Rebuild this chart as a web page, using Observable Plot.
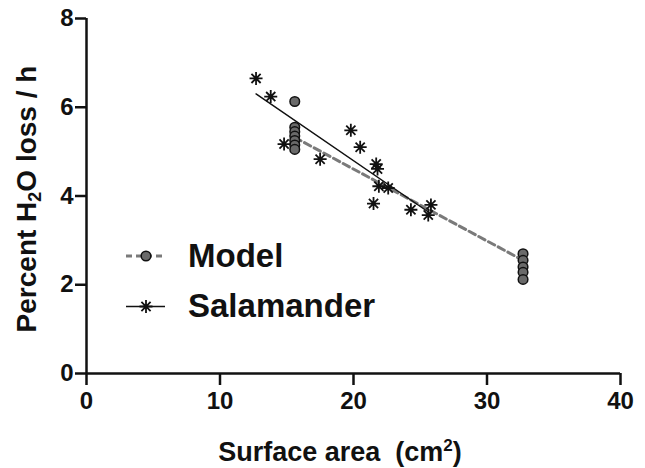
<!DOCTYPE html>
<html><head><meta charset="utf-8">
<script src="https://cdn.jsdelivr.net/npm/d3@7"></script>
<script src="https://cdn.jsdelivr.net/npm/@observablehq/plot@0.6"></script>
<style>
body{margin:0;background:#fff}
svg{font-family:"Liberation Sans",Arial,sans-serif}
</style>
</head><body><div id="chart"></div>
<script>
// Model (circles)
const modelArea = [15.6, 15.6, 15.6, 15.6, 15.6, 15.6, 15.6, 32.7, 32.7, 32.7, 32.7, 32.7];
const modelLoss = [6.13, 5.55, 5.45, 5.35, 5.25, 5.15, 5.05, 2.70, 2.55, 2.40, 2.28, 2.12];
// Salamander (asterisks)
const salArea = [12.7, 13.8, 14.8, 17.5, 19.8, 20.5, 21.7, 21.8, 21.9, 22.6, 21.5, 24.3, 25.8, 25.6];
const salLoss = [6.65, 6.24, 5.17, 4.83, 5.48, 5.10, 4.72, 4.61, 4.22, 4.18, 3.83, 3.69, 3.80, 3.57];
// Fit lines (end points)
const modelFitArea = [15.6, 32.7];
const modelFitLoss = [5.32, 2.55];
const salFitArea = [12.7, 25.8];
const salFitLoss = [6.30, 3.60];
// Ticks and labels
const xTicks = [0, 10, 20, 30, 40];
const yTicks = [0, 2, 4, 6, 8];
const seriesNames = ["Model", "Salamander"];

const model = modelArea.map((x, i) => ({x, y: modelLoss[i]}));
const sal = salArea.map((x, i) => ({x, y: salLoss[i]}));
const modelFit = modelFitArea.map((x, i) => ({x, y: modelFitLoss[i]}));
const salFit = salFitArea.map((x, i) => ({x, y: salFitLoss[i]}));

const star8 = {
  draw(ctx, size) {
    const r = Math.sqrt(size / Math.PI), d = r * Math.SQRT1_2;
    ctx.moveTo(-r, 0); ctx.lineTo(r, 0);
    ctx.moveTo(0, -r); ctx.lineTo(0, r);
    ctx.moveTo(-d, -d); ctx.lineTo(d, d);
    ctx.moveTo(-d, d); ctx.lineTo(d, -d);
  }
};

const ink = "#111";
const plot = Plot.plot({
  width: 645,
  height: 468,
  marginLeft: 86,
  marginRight: 25,
  marginTop: 18,
  marginBottom: 95,
  style: {color: ink, background: "#fff", fontFamily: '"Liberation Sans", Arial, sans-serif'},
  x: {domain: [0, 40]},
  y: {domain: [0, 8]},
  marks: [
    Plot.axisX({ticks: xTicks, tickSize: 12, tickPadding: 6, fontSize: 24, fontWeight: "bold", strokeWidth: 2.5, label: null}),
    Plot.axisY({ticks: yTicks, tickSize: 11, tickPadding: 2, fontSize: 24, fontWeight: "bold", strokeWidth: 2.5, label: null}),
    Plot.ruleX([0], {stroke: ink, strokeWidth: 2.5}),
    Plot.ruleY([0], {stroke: ink, strokeWidth: 2.5}),
    Plot.line(modelFit, {x: "x", y: "y", stroke: "#7a7a7a", strokeWidth: 3, strokeDasharray: "7,4"}),
    Plot.line(salFit, {x: "x", y: "y", stroke: ink, strokeWidth: 1.5}),
    Plot.dot(model, {x: "x", y: "y", r: 4.8, fill: "#6a6a6a", stroke: ink, strokeWidth: 1.5}),
    Plot.dot(sal, {x: "x", y: "y", r: 6.5, symbol: star8, fill: "none", stroke: ink, strokeWidth: 1.8})
  ]
});
document.getElementById("chart").append(plot);

const svg = d3.select(plot);
// Axis titles
const yl = svg.append("text")
  .attr("transform", "translate(36,199) rotate(-90)")
  .attr("text-anchor", "middle")
  .attr("font-size", 28).attr("font-weight", "bold").attr("fill", ink)
  .style("white-space", "pre");
yl.append("tspan").text("Percent H");
yl.append("tspan").attr("font-size", 18).attr("dy", "0.3em").text("2");
yl.append("tspan").attr("dy", "-0.19em").text("O loss / h");

const xl = svg.append("text")
  .attr("x", 340).attr("y", 461)
  .attr("text-anchor", "middle")
  .attr("font-size", 27).attr("font-weight", "bold").attr("fill", ink)
  .style("white-space", "pre");
xl.append("tspan").text("Surface area  (cm");
xl.append("tspan").attr("font-size", 17).attr("dy", "-0.6em").text("2");
xl.append("tspan").attr("dy", "0.38em").text(")");

// Legend
const lg = svg.append("g").attr("text-anchor", "start");
lg.append("line").attr("x1", 126).attr("x2", 165).attr("y1", 256).attr("y2", 256)
  .attr("stroke", "#7a7a7a").attr("stroke-width", 3).attr("stroke-dasharray", "6,4");
lg.append("circle").attr("cx", 146).attr("cy", 256).attr("r", 4.8)
  .attr("fill", "#6a6a6a").attr("stroke", ink).attr("stroke-width", 1.5);
lg.append("text").attr("x", 188).attr("y", 267).attr("font-size", 33).attr("font-weight", "bold")
  .attr("text-anchor", "start").attr("fill", ink).text(seriesNames[0]);
lg.append("line").attr("x1", 126).attr("x2", 165).attr("y1", 306.5).attr("y2", 306.5)
  .attr("stroke", ink).attr("stroke-width", 1.5);
lg.append("path").attr("transform", "translate(146,306.5)")
  .attr("d", d3.symbol(star8, 6.5 * 6.5 * Math.PI)())
  .attr("fill", "none").attr("stroke", ink).attr("stroke-width", 1.8);
lg.append("text").attr("x", 188).attr("y", 317).attr("font-size", 33).attr("font-weight", "bold")
  .attr("text-anchor", "start").attr("fill", ink).text(seriesNames[1]);
</script>
</body></html>
